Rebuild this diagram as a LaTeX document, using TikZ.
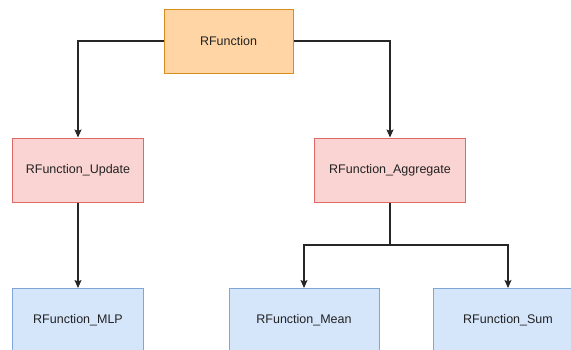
\documentclass[tikz,border=0pt]{standalone}
\usepackage{fontspec}
\setmainfont{Liberation Sans}
\usetikzlibrary{arrows.meta}
\definecolor{orfill}{HTML}{FFD5A5}
\definecolor{ordraw}{HTML}{D98E1C}
\definecolor{rdfill}{HTML}{FAD4D2}
\definecolor{rddraw}{HTML}{DD6A66}
\definecolor{blfill}{HTML}{D5E6FB}
\definecolor{bldraw}{HTML}{7EA6D8}
\definecolor{txt}{HTML}{222222}
\begin{document}
\begin{tikzpicture}[x=1bp,y=-1bp,
  box/.style={rectangle, line width=1bp, minimum height=64bp, inner sep=0pt,
    font=\fontsize{12.5bp}{15bp}\selectfont, text=txt},
  orbox/.style={box, fill=orfill, draw=ordraw},
  rdbox/.style={box, fill=rdfill, draw=rddraw},
  blbox/.style={box, fill=blfill, draw=bldraw},
  conn/.style={line width=1.2bp, draw=black!85, -{Stealth[length=8bp,width=7bp,inset=1.5bp]}}]
\useasboundingbox (0,0) rectangle (571,349);
\begin{scope}
\clip (0,0) rectangle (571,349);
\node[orbox, minimum width=129bp] (root) at (228.5,41) {RFunction};
\node[rdbox, minimum width=130bp] (upd) at (78,170) {RFunction\_Update};
\node[rdbox, minimum width=151bp] (agg) at (390,170) {RFunction\_Aggregate};
\node[blbox, minimum width=130bp] (mlp) at (78,320.5) {RFunction\_MLP};
\node[blbox, minimum width=150bp] (mean) at (304,320.5) {RFunction\_Mean};
\node[blbox, minimum width=150bp] (sum) at (508,320.5) {RFunction\_Sum};
\coordinate (split) at (390,245);
\draw[conn] (root.west) -| (upd.north);
\draw[conn] (root.east) -| (agg.north);
\draw[conn] (upd.south) -- (mlp.north);
\draw[conn] (agg.south) |- (split) -| (mean.north);
\draw[conn] (split) -| (sum.north);
\end{scope}
\end{tikzpicture}
\end{document}
